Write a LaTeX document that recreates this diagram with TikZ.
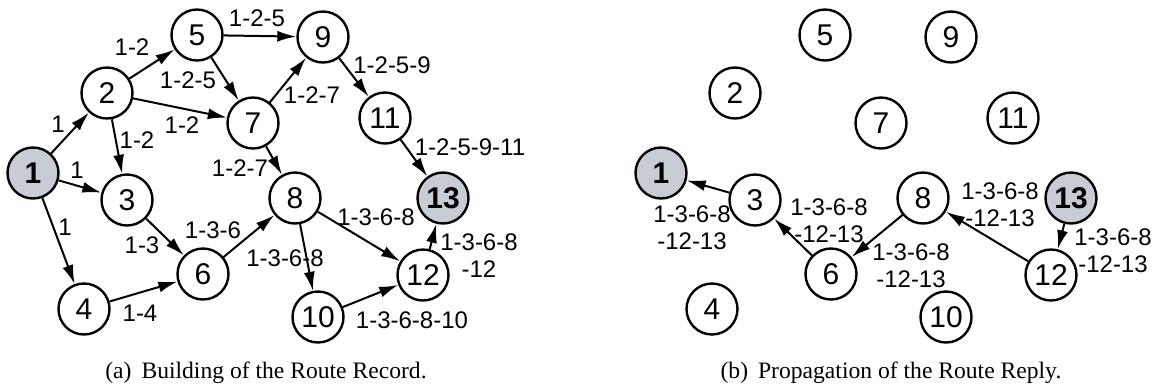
\documentclass[tikz,border=0pt]{standalone}
\usepackage{fontspec}
\setmainfont{Liberation Serif}
\setsansfont{Liberation Sans}
\usepackage{xcolor}
\usepackage{tikz}
\usetikzlibrary{arrows.meta}
\definecolor{srcgray}{HTML}{C8CCD4}

\tikzset{
  netnode/.style={circle,draw,line width=1.2pt,minimum size=25.5pt,inner sep=0pt,
    font=\sffamily\fontsize{15}{16}\selectfont},
  endnode/.style={netnode,fill=srcgray,font=\sffamily\bfseries\fontsize{15}{16}\selectfont},
  hop/.style={line width=1pt,-{Latex[length=9.5pt,width=5.5pt]}},
  routelbl/.style={inner sep=0pt,align=center,font=\sffamily\fontsize{12}{13.5}\selectfont},
  capt/.style={inner sep=0pt,font=\fontsize{11.8}{14}\selectfont}
}

\begin{document}
\begin{tikzpicture}[x=0.5pt,y=-0.5pt]
  \useasboundingbox (0,0) rectangle (1156,388);

  % (a) route record
  \node[endnode] (a1) at (33,173) {1};
  \node[netnode] (a2) at (107,93) {2};
  \node[netnode] (a3) at (127,200) {3};
  \node[netnode] (a4) at (84,309) {4};
  \node[netnode] (a5) at (197,35) {5};
  \node[netnode] (a6) at (203,274) {6};
  \node[netnode] (a7) at (253,123) {7};
  \node[netnode] (a8) at (295,198) {8};
  \node[netnode] (a9) at (323,37) {9};
  \node[netnode] (a10) at (318,317) {10};
  \node[netnode] (a11) at (385,118) {11};
  \node[netnode] (a12) at (423,275) {12};
  \node[endnode] (a13) at (443,198) {13};

  \foreach \u/\v in {1/2,1/3,1/4,2/5,2/7,2/3,5/9,5/7,7/9,9/11,11/13,
                     7/8,3/6,4/6,6/8,8/12,8/10,10/12,12/13}
    \draw[hop] (a\u) -- (a\v);

  \node[routelbl] (r12) at (58,124) {1};
  \node[routelbl] (r13) at (77,170) {1};
  \node[routelbl] (r14) at (65,227) {1};
  \node[routelbl] (r25) at (132,47) {1-2};
  \node[routelbl] (r57) at (188,80) {1-2-5};
  \node[routelbl] (r27) at (182,125) {1-2};
  \node[routelbl] (r23) at (137,140) {1-2};
  \node[routelbl] (r59) at (257,18) {1-2-5};
  \node[routelbl] (r78) at (240,168) {1-2-7};
  \node[routelbl] (r79) at (312,95) {1-2-7};
  \node[routelbl] (r911) at (392,65) {1-2-5-9};
  \node[routelbl] (r1113) at (470,147) {1-2-5-9-11};
  \node[routelbl] (r36) at (142,245) {1-3};
  \node[routelbl] (r68) at (213,230) {1-3-6};
  \node[routelbl] (r46) at (140,313) {1-4};
  \node[routelbl] (r812) at (376,217) {1-3-6-8};
  \node[routelbl] (r810) at (285,258) {1-3-6-8};
  \node[routelbl] (r1213) at (479,256) {1-3-6-8\\-12};
  \node[routelbl] (r1012) at (412,320) {1-3-6-8-10};

  \node[capt] (capa) at (266,373) {(a)\hspace{5pt}Building of the Route Record.};

  % (b) route reply
  \node[endnode] (b1) at (661,173) {1};
  \node[netnode] (b2) at (735,93) {2};
  \node[netnode] (b3) at (755,200) {3};
  \node[netnode] (b4) at (712,309) {4};
  \node[netnode] (b5) at (825,35) {5};
  \node[netnode] (b6) at (831,274) {6};
  \node[netnode] (b7) at (881,123) {7};
  \node[netnode] (b8) at (923,198) {8};
  \node[netnode] (b9) at (951,37) {9};
  \node[netnode] (b10) at (946,317) {10};
  \node[netnode] (b11) at (1013,118) {11};
  \node[netnode] (b12) at (1051,275) {12};
  \node[endnode] (b13) at (1071,198) {13};

  \foreach \u/\v in {3/1,6/3,8/6,12/8,13/12}
    \draw[hop] (b\u) -- (b\v);

  \node[routelbl] (p31) at (692,228) {1-3-6-8\\-12-13};
  \node[routelbl] (p63) at (829,221) {1-3-6-8\\-12-13};
  \node[routelbl] (p86) at (911,266) {1-3-6-8\\-12-13};
  \node[routelbl] (p128) at (1000,205) {1-3-6-8\\-12-13};
  \node[routelbl] (p1312) at (1113,251) {1-3-6-8\\-12-13};

  \node[capt] (capb) at (891,373) {(b)\hspace{5pt}Propagation of the Route Reply.};
\end{tikzpicture}
\end{document}
